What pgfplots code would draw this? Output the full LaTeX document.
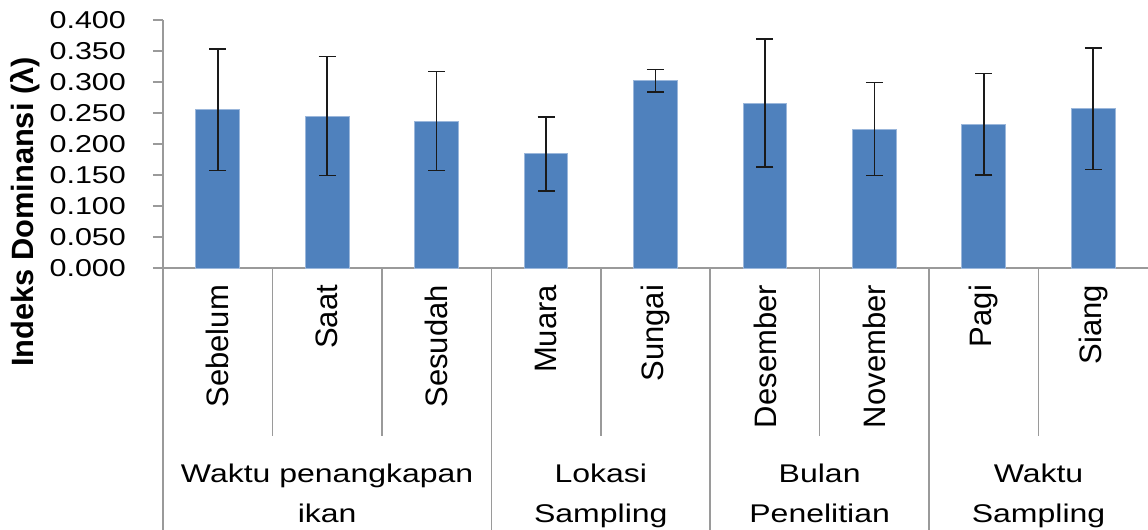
\documentclass[border=0pt]{standalone}
\usepackage{fontspec}
\setmainfont{Liberation Sans}
\newfontfamily\widesans{Liberation Sans}[FakeStretch=1.25]
\usepackage{pgfplots}
\pgfplotsset{compat=1.18}

\definecolor{barblue}{HTML}{4F81BD}
\definecolor{baredge}{HTML}{9BB7DB}
\definecolor{axisgray}{HTML}{9A9A9A}
\definecolor{errblack}{HTML}{1A1A1A}

\newcommand{\tickfont}{\fontsize{12.2pt}{14pt}\widesans}
\newcommand{\grpfont}{\fontsize{12.8pt}{15pt}\widesans}
\newcommand{\catfont}{\fontsize{15.5pt}{18pt}\selectfont}

% mean dominance index and its standard deviation per group
\pgfplotstableread{
x  y      e
0  0.255  0.098
1  0.245  0.096
2  0.237  0.080
3  0.184  0.060
4  0.302  0.018
5  0.266  0.103
6  0.224  0.075
7  0.232  0.082
8  0.257  0.098
}\dominance

\begin{document}
\begin{tikzpicture}
\begin{axis}[
  at={(0,0)}, anchor=south west,
  scale only axis, width=492.5pt, height=124pt,
  xmin=-0.5, xmax=8.5, ymin=0, ymax=0.4,
  clip=false,
  axis x line*=bottom, axis y line*=left,
  axis line style={draw=axisgray, line width=0.8pt, -},
  ytick={0,0.05,0.1,0.15,0.2,0.25,0.3,0.35,0.4},
  scaled y ticks=false,
  yticklabel style={font=\tickfont, xshift=-10pt, /pgf/number format/fixed,
    /pgf/number format/fixed zerofill, /pgf/number format/precision=3,
    /pgf/number format/assume math mode=true},
  tick align=outside, major tick length=5pt,
  ytick style={draw=axisgray, line width=0.8pt},
  xtick={0,1,2,3,4,5,6,7,8},
  xticklabels={Sebelum,Saat,Sesudah,Muara,Sungai,Desember,November,Pagi,Siang},
  xtick style={draw=none},
  xticklabel style={rotate=90, anchor=east, font=\catfont},
]
\addplot[ybar, bar width=0.4, fill=barblue, draw=baredge, line width=0.5pt,
  error bars/.cd, y dir=both, y explicit,
  error bar style={draw=errblack, line width=0.8pt},
  error mark options={draw=errblack, line width=0.8pt, mark size=4.25pt, rotate=90}]
  table[x=x, y=y, y error=e] {\dominance};

% separators of the category axis
\pgfplotsinvokeforeach{0.5,1.5,3.5,5.5,7.5}{
  \draw[axisgray, line width=0.8pt] (axis cs:#1,0) -- ++(0pt,-84pt);
}
\pgfplotsinvokeforeach{-0.5,2.5,4.5,6.5}{
  \draw[axisgray, line width=0.8pt] (axis cs:#1,0) -- ++(0pt,-131pt);
}

% group labels
\node[font=\grpfont, anchor=base] at ([yshift=-107pt]axis cs:1,0) {Waktu penangkapan};
\node[font=\grpfont, anchor=base] at ([yshift=-127pt]axis cs:1,0) {ikan};
\node[font=\grpfont, anchor=base] at ([yshift=-107pt]axis cs:3.5,0) {Lokasi};
\node[font=\grpfont, anchor=base] at ([yshift=-127pt]axis cs:3.5,0) {Sampling};
\node[font=\grpfont, anchor=base] at ([yshift=-107pt]axis cs:5.5,0) {Bulan};
\node[font=\grpfont, anchor=base] at ([yshift=-127pt]axis cs:5.5,0) {Penelitian};
\node[font=\grpfont, anchor=base] at ([yshift=-107pt]axis cs:7.5,0) {Waktu};
\node[font=\grpfont, anchor=base] at ([yshift=-127pt]axis cs:7.5,0) {Sampling};

% axis title
\node[rotate=90, font=\fontsize{15.4pt}{19pt}\selectfont\bfseries]
  at ([xshift=-69pt, yshift=28pt]axis cs:-0.5,0) {Indeks Dominansi (λ)};
\end{axis}
\pgfresetboundingbox
\path[use as bounding box] (-81.5pt,-131pt) rectangle (492.5pt,134pt);
\end{tikzpicture}
\end{document}
